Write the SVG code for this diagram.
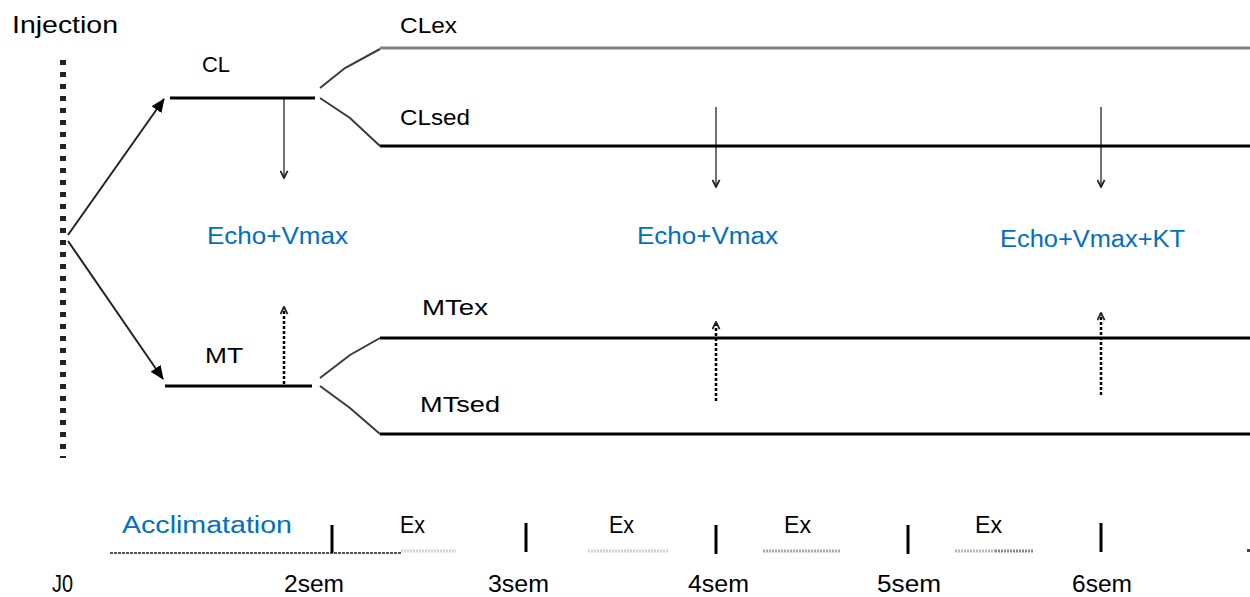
<svg xmlns="http://www.w3.org/2000/svg" width="1250" height="597" viewBox="0 0 1250 597">
<defs>
<style>
text{font-family:"Liberation Sans",Arial,sans-serif;font-size:22px;fill:#000}
.blue{fill:#0070C0;font-size:23px}
.big{font-size:24px}
.trunk{stroke:#000;stroke-width:3;fill:none}
.branch{stroke:#3a3a3a;stroke-width:2;fill:none}
.down{stroke:#707070;stroke-width:2;fill:none}
.up{stroke:#000;stroke-width:2.5;stroke-dasharray:3 2;fill:none}
.tick{stroke:#000;stroke-width:3}
.exbar{stroke-width:3;stroke-dasharray:2 1;fill:none}
</style>
<marker id="fill" viewBox="0 0 14 12" refX="13" refY="6" markerWidth="14" markerHeight="12" markerUnits="userSpaceOnUse" orient="auto">
<path d="M0,0 L14,6 L0,12 Z" fill="#000"/>
</marker>
<marker id="vee" viewBox="0 0 10 10" refX="9" refY="5" markerWidth="9" markerHeight="9" markerUnits="userSpaceOnUse" orient="auto">
<path d="M1,1 L9,5 L1,9" fill="none" stroke="#222" stroke-width="2"/>
</marker>
</defs>
<rect width="1250" height="597" fill="#fff"/>

<g id="injection">
<line x1="63" y1="60" x2="63" y2="458" stroke="#222" stroke-width="6" stroke-dasharray="5 7"/>
<text class="big" x="12" y="33" textLength="106" lengthAdjust="spacingAndGlyphs">Injection</text>
</g>

<g id="connectors">
<line x1="68" y1="235" x2="164" y2="99" stroke="#222" stroke-width="2" marker-end="url(#fill)"/>
<line x1="68" y1="241" x2="163" y2="379" stroke="#222" stroke-width="2" marker-end="url(#fill)"/>
<polyline class="branch" points="320,88 345,68 380,49"/>
<polyline class="branch" points="320,98 350,118 380,146"/>
<polyline class="branch" points="320,378 350,355 380,338"/>
<polyline class="branch" points="320,386 350,408 380,434"/>
<line class="down" x1="284" y1="98" x2="284" y2="178" marker-end="url(#vee)"/>
<line class="down" x1="716" y1="107" x2="716" y2="187" marker-end="url(#vee)"/>
<line class="down" x1="1101" y1="107" x2="1101" y2="187" marker-end="url(#vee)"/>
<line class="up" x1="284" y1="384" x2="284" y2="307" marker-end="url(#vee)"/>
<line class="up" x1="716" y1="401" x2="716" y2="322" marker-end="url(#vee)"/>
<line class="up" x1="1101" y1="395" x2="1101" y2="313" marker-end="url(#vee)"/>
</g>

<g id="CL">
<line class="trunk" x1="170" y1="98" x2="315" y2="98"/>
<text x="202" y="72" textLength="28" lengthAdjust="spacingAndGlyphs">CL</text>
</g>
<g id="CLex">
<line x1="380" y1="48" x2="1250" y2="48" stroke="#808080" stroke-width="3"/>
<text x="400" y="33" textLength="57" lengthAdjust="spacingAndGlyphs">CLex</text>
</g>
<g id="CLsed">
<line class="trunk" x1="380" y1="146" x2="1250" y2="146"/>
<text x="400" y="125" textLength="70" lengthAdjust="spacingAndGlyphs">CLsed</text>
</g>
<g id="MT">
<line class="trunk" x1="165" y1="386" x2="312" y2="386"/>
<text x="205" y="363" textLength="38" lengthAdjust="spacingAndGlyphs">MT</text>
</g>
<g id="MTex">
<line class="trunk" x1="380" y1="338" x2="1250" y2="338"/>
<text x="422" y="315" textLength="66" lengthAdjust="spacingAndGlyphs">MTex</text>
</g>
<g id="MTsed">
<line class="trunk" x1="380" y1="434" x2="1250" y2="434"/>
<text x="420" y="412" textLength="80" lengthAdjust="spacingAndGlyphs">MTsed</text>
</g>

<g id="echo1"><text class="blue" x="207" y="244" textLength="141" lengthAdjust="spacingAndGlyphs">Echo+Vmax</text></g>
<g id="echo2"><text class="blue" x="637" y="244" textLength="141" lengthAdjust="spacingAndGlyphs">Echo+Vmax</text></g>
<g id="echo3"><text class="blue" x="1000" y="247" textLength="185" lengthAdjust="spacingAndGlyphs">Echo+Vmax+KT</text></g>

<g id="timeline">
<line x1="110" y1="553" x2="401" y2="553" stroke="#555" stroke-width="2" stroke-dasharray="3 1"/>
<text class="blue" x="122" y="533" font-size="24" textLength="170" lengthAdjust="spacingAndGlyphs">Acclimatation</text>
<line class="exbar" x1="401" y1="551" x2="456" y2="551" stroke="#d4d4d4"/>
<line class="exbar" x1="588" y1="551" x2="668" y2="551" stroke="#d0d0d0"/>
<line class="exbar" x1="763" y1="551" x2="841" y2="551" stroke="#a8a8a8"/>
<line class="exbar" x1="955" y1="551" x2="995" y2="551" stroke="#b8b8b8"/>
<line class="exbar" x1="995" y1="551" x2="1034" y2="551" stroke="#888"/>
<text class="big" x="400" y="533" textLength="25" lengthAdjust="spacingAndGlyphs">Ex</text>
<text class="big" x="609" y="533" textLength="25" lengthAdjust="spacingAndGlyphs">Ex</text>
<text class="big" x="784" y="533" textLength="27" lengthAdjust="spacingAndGlyphs">Ex</text>
<text class="big" x="975" y="533" textLength="27" lengthAdjust="spacingAndGlyphs">Ex</text>
<line class="tick" x1="332" y1="525" x2="332" y2="553"/>
<line class="tick" x1="526" y1="523" x2="526" y2="552"/>
<line class="tick" x1="716" y1="525" x2="716" y2="554"/>
<line class="tick" x1="908" y1="525" x2="908" y2="554"/>
<line class="tick" x1="1101" y1="523" x2="1101" y2="552"/>
<rect x="1247" y="549" width="3" height="3" fill="#444"/>
<text class="big" x="52" y="592" textLength="21" lengthAdjust="spacingAndGlyphs">J0</text>
<text class="big" x="284" y="592" textLength="60" lengthAdjust="spacingAndGlyphs">2sem</text>
<text class="big" x="488" y="592" textLength="61" lengthAdjust="spacingAndGlyphs">3sem</text>
<text class="big" x="688" y="592" textLength="61" lengthAdjust="spacingAndGlyphs">4sem</text>
<text class="big" x="877" y="592" textLength="64" lengthAdjust="spacingAndGlyphs">5sem</text>
<text class="big" x="1072" y="592" textLength="60" lengthAdjust="spacingAndGlyphs">6sem</text>
</g>
</svg>
